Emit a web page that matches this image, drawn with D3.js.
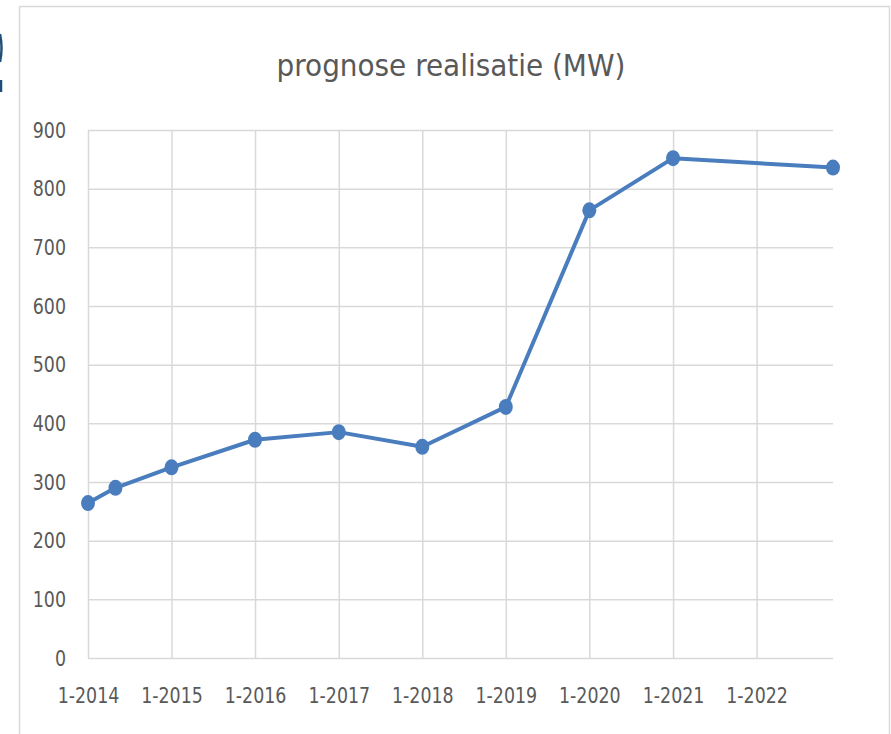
<!DOCTYPE html>
<html>
<head>
<meta charset="utf-8">
<script src="https://cdn.jsdelivr.net/npm/d3@7"></script>
<style>
  html, body { margin: 0; padding: 0; background: #fff; }
  svg { display: block; }
</style>
</head>
<body>
<div id="chart"></div>
<script>
// data
const dates = ["2014-01", "2014-05", "2015-01", "2016-01", "2017-01", "2018-01", "2019-01", "2020-01", "2021-01", "2022-12"];
const values = [264, 290, 325, 372, 385, 360, 428, 763, 852, 836];
const tickYears = [2014, 2015, 2016, 2017, 2018, 2019, 2020, 2021, 2022];
const yTicks = [0, 100, 200, 300, 400, 500, 600, 700, 800, 900];
const title = "prognose realisatie (MW)";

const parse = d3.timeParse("%Y-%m");
const data = dates.map((d, i) => ({ date: parse(d), value: values[i] }));

const width = 891, height = 734;
const marginTop = 130, marginRight = 58, marginBottom = 76, marginLeft = 88;
const font = "'DejaVu Sans Condensed', sans-serif";
const textColor = "#595959", gridColor = "#d9d9d9", lineColor = "#4a7dbd";
const squeeze = 0.88;

const x = d3.scaleUtc()
  .domain(d3.extent(data, d => d.date))
  .range([marginLeft, width - marginRight]);

const y = d3.scaleLinear()
  .domain([0, 900])
  .range([height - marginBottom, marginTop]);

const svg = d3.select("#chart")
  .append("svg")
  .attr("width", width)
  .attr("height", height)
  .attr("viewBox", [0, 0, width, height]);

// chart frame
svg.append("rect")
  .attr("x", 19.5).attr("y", 6.5)
  .attr("width", 870).attr("height", 760)
  .attr("fill", "#fff")
  .attr("stroke", gridColor)
  .attr("stroke-width", 1.5);

// cropped edge of a neighbouring element
svg.append("path")
  .attr("d", "M0,34 Q3,48 0,62 M1,80 L1,92")
  .attr("stroke", "#1f4e79")
  .attr("stroke-width", 2.5)
  .attr("fill", "none");

// title
svg.append("text")
  .attr("x", 451)
  .attr("y", 76)
  .attr("text-anchor", "middle")
  .attr("fill", textColor)
  .attr("font-family", font)
  .attr("font-size", 31)
  .text(title);

// y axis + horizontal grid
svg.append("g")
  .attr("transform", `translate(${marginLeft},0)`)
  .call(d3.axisLeft(y).tickValues(yTicks).tickSize(0).tickPadding(0))
  .call(g => g.select(".domain").remove())
  .call(g => g.selectAll(".tick text")
    .attr("x", -22 / squeeze)
    .attr("transform", `scale(${squeeze},1)`)
    .attr("fill", textColor)
    .attr("font-family", font)
    .attr("font-size", 22))
  .call(g => g.selectAll(".tick line")
    .clone()
    .attr("x2", width - marginRight - marginLeft)
    .attr("stroke", gridColor)
    .attr("stroke-width", 1.5));

// x axis + vertical grid
const xTicks = tickYears.map(yr => new Date(Date.UTC(yr, 0, 1)));
svg.append("g")
  .attr("transform", `translate(0,${height - marginBottom})`)
  .call(d3.axisBottom(x).tickValues(xTicks).tickSize(0).tickPadding(29)
    .tickFormat(d => "1-" + d.getUTCFullYear()))
  .call(g => g.select(".domain").remove())
  .call(g => g.selectAll(".tick text")
    .attr("transform", `scale(${squeeze},1)`)
    .attr("fill", textColor)
    .attr("font-family", font)
    .attr("font-size", 22))
  .call(g => g.selectAll(".tick line")
    .clone()
    .attr("y2", -(height - marginBottom - marginTop))
    .attr("stroke", gridColor)
    .attr("stroke-width", 1.5));

// line
svg.append("path")
  .datum(data)
  .attr("fill", "none")
  .attr("stroke", lineColor)
  .attr("stroke-width", 4)
  .attr("stroke-linejoin", "round")
  .attr("d", d3.line().x(d => x(d.date)).y(d => y(d.value)));

// markers
svg.append("g")
  .attr("fill", lineColor)
  .selectAll("ellipse")
  .data(data)
  .join("ellipse")
  .attr("cx", d => x(d.date))
  .attr("cy", d => y(d.value))
  .attr("rx", 7)
  .attr("ry", 8);
</script>
</body>
</html>
